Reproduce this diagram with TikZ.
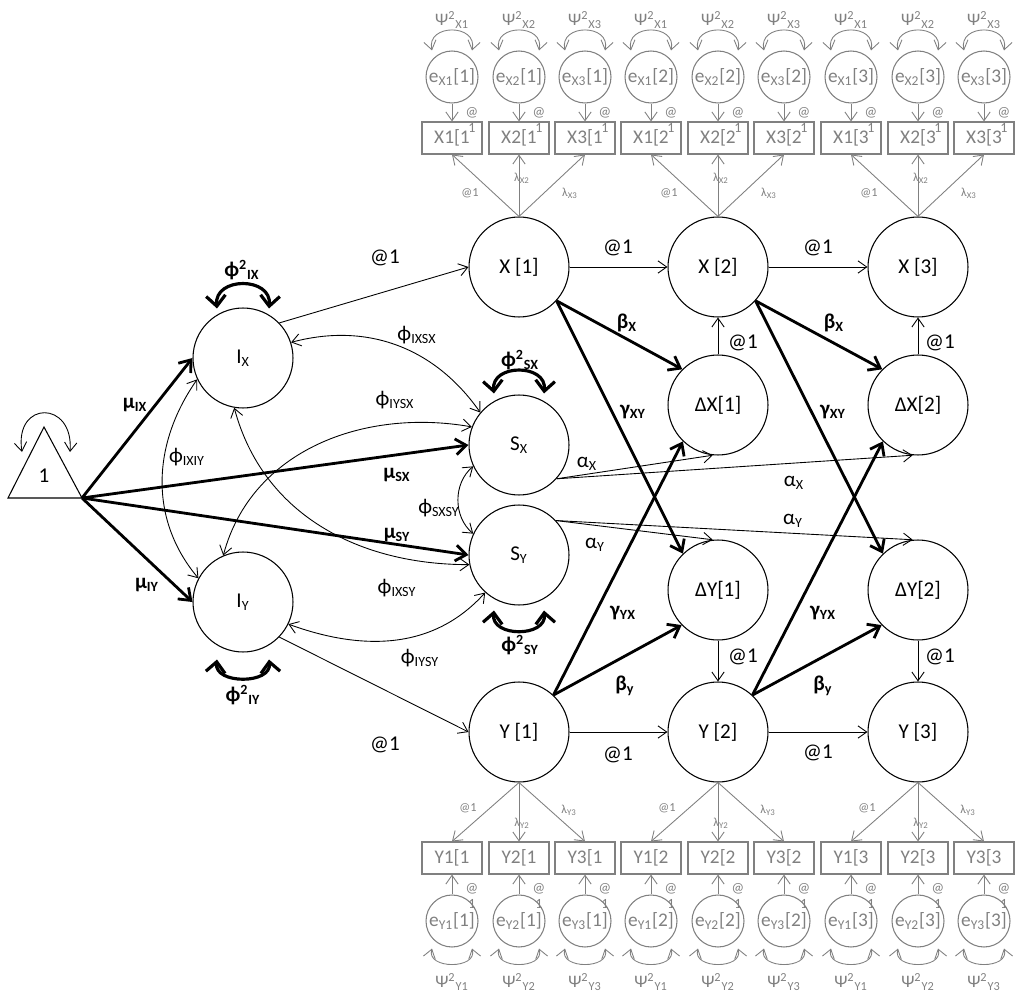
\documentclass[tikz,border=0pt]{standalone}
\usepackage{fontspec}
\setmainfont{Carlito}
\usepackage{tikz}
\usetikzlibrary{arrows.meta, calc}
\definecolor{gr}{RGB}{128,128,128}
\newcommand\mainfs{\fontsize{12}{14}\selectfont}
\newcommand\grfs{\fontsize{11}{13}\selectfont}
\newcommand\psifs{\fontsize{10}{12}\selectfont}
\newcommand\smfs{\fontsize{8}{9.5}\selectfont}
\newcommand\tinyfs{\fontsize{7}{8}\selectfont}

\begin{document}
\begin{tikzpicture}[x=0.02cm, y=0.02cm, font=\mainfs,
    latent/.style={draw, circle, minimum size=2cm, inner sep=0pt, line width=0.6pt},
    gbox/.style={draw=gr, text=gr, rectangle, minimum width=1.2cm, minimum height=0.64cm, inner sep=0pt, line width=0.6pt, font=\grfs},
    gerr/.style={draw=gr, text=gr, circle, minimum size=1.04cm, inner sep=0pt, line width=0.6pt, font=\grfs},
    arr/.style={-{Straight Barb[length=5pt,width=7pt]}, line width=0.5pt},
    fatarr/.style={-{Straight Barb[length=6pt,width=9pt]}, line width=1.6pt},
    cov/.style={{Straight Barb[length=5pt,width=7pt]}-{Straight Barb[length=5pt,width=7pt]}, line width=0.5pt},
    fatcov/.style={{Straight Barb[length=6pt,width=11pt]}-{Straight Barb[length=6pt,width=11pt]}, line width=1.8pt},
    garr/.style={arr, draw=gr},
    gcov/.style={cov, draw=gr},
    lab/.style={inner sep=0pt},
    bl/.style={inner sep=0pt, font=\mainfs\bfseries},
    glab/.style={inner sep=0pt, text=gr, font=\smfs, align=center},
    gsm/.style={inner sep=0pt, text=gr, font=\tinyfs}]
    \useasboundingbox (0,0) rectangle (1024,-1003);

    % constant
    \coordinate (tl) at (8,-498);
    \coordinate (apex) at (44,-427);
    \coordinate (tip) at (82,-498);
    \draw[line width=0.6pt] (tl) -- (apex) -- (tip) -- cycle;
    \node (one) at (44,-476) {1};
    \draw[cov] ($(apex)+(-22,-25)$) .. controls ($(apex)+(-30,27)$) and ($(apex)+(30,27)$) .. ($(apex)+(26,-25)$);

    % latent variables
    \node[latent] (IX) at (243,-358) {I\textsubscript{X}};
    \node[latent] (IY) at (243,-602) {I\textsubscript{Y}};
    \node[latent] (SX) at (519,-445) {S\textsubscript{X}};
    \node[latent] (SY) at (519,-555) {S\textsubscript{Y}};
    \node[latent] (X1) at (519,-267) {X [1]};
    \node[latent] (X2) at (718,-267) {X [2]};
    \node[latent] (X3) at (918,-267) {X [3]};
    \node[latent] (DX1) at (718,-405) {ΔX[1]};
    \node[latent] (DX2) at (918,-405) {ΔX[2]};
    \node[latent] (DY1) at (718,-590) {ΔY[1]};
    \node[latent] (DY2) at (918,-590) {ΔY[2]};
    \node[latent] (Y1) at (519,-732) {Y [1]};
    \node[latent] (Y2) at (718,-732) {Y [2]};
    \node[latent] (Y3) at (918,-732) {Y [3]};

    % means
    \draw[fatarr] (tip) -- (IX.west);
    \draw[fatarr] (tip) -- (IY.west);
    \draw[fatarr] (tip) -- (SX.west);
    \draw[fatarr] (tip) -- (SY.west);

    % covariances
    \draw[cov] (IX.205) to[out=235, in=130] (IY.152);
    \draw[cov] (IX.260) to[out=285, in=180] (SY.191);
    \draw[cov] (IY.113) to[out=75, in=170] (SX.159);
    \draw[cov] (IX.18) to[out=15, in=125] (SX.140);
    \draw[cov] (IY.334) to[out=-20, in=228] (SY.228);
    \draw[cov] (SX.205) to[out=220, in=140] (SY.155);

    % variances
    \draw[fatcov] ($(IX.north)+(-26,-1)$) .. controls ($(IX.north)+(-29,31)$) and ($(IX.north)+(29,31)$) .. ($(IX.north)+(26,-1)$);
    \draw[fatcov] ($(SX.north)+(-25,1)$) .. controls ($(SX.north)+(-28,31)$) and ($(SX.north)+(28,31)$) .. ($(SX.north)+(25,1)$);
    \draw[fatcov] ($(SY.south)+(-25,-5)$) .. controls ($(SY.south)+(-28,-32)$) and ($(SY.south)+(28,-32)$) .. ($(SY.south)+(25,-5)$);
    \draw[fatcov] ($(IY.south)+(-26,-7)$) .. controls ($(IY.south)+(-29,-32)$) and ($(IY.south)+(29,-32)$) .. ($(IY.south)+(26,-7)$);

    % fixed paths
    \draw[arr] (IX.44) -- (X1.west);
    \draw[arr] (IY.316) -- (Y1.west);
    \draw[arr] (X1) -- (X2);
    \draw[arr] (X2) -- (X3);
    \draw[arr] (DX1) -- (X2);
    \draw[arr] (DX2) -- (X3);
    \draw[arr] (DY1) -- (Y2);
    \draw[arr] (DY2) -- (Y3);
    \draw[arr] (Y1) -- (Y2);
    \draw[arr] (Y2) -- (Y3);

    % proportional and coupling
    \draw[fatarr] (X1.318) -- (DX1.135);
    \draw[fatarr] (X1.318) -- (DY1.134);
    \draw[fatarr] (X2.318) -- (DX2.135);
    \draw[fatarr] (X2.318) -- (DY2.134);
    \draw[fatarr] (Y1.47) -- (DX1.226);
    \draw[fatarr] (Y1.47) -- (DY1.224);
    \draw[fatarr] (Y2.47) -- (DX2.226);
    \draw[fatarr] (Y2.47) -- (DY2.224);

    % slopes
    \draw[arr] (SX.318) -- (DX1.264);
    \draw[arr] (SX.318) -- (DX2.264);
    \draw[arr] (SY.43) -- (DY1.96);
    \draw[arr] (SY.43) -- (DY2.96);

    % labels
    \node[lab] (aIX) at (385,-258) {@1};
    \node[lab] (aIY) at (385,-745) {@1};
    \node[lab] (aX12) at (618,-248) {@1};
    \node[lab] (aX23) at (818,-248) {@1};
    \node[lab] (aDX1) at (743,-343) {@1};
    \node[lab] (aDX2) at (940,-343) {@1};
    \node[lab] (aDY1) at (743,-657) {@1};
    \node[lab] (aDY2) at (940,-657) {@1};
    \node[lab] (aY12) at (618,-755) {@1};
    \node[lab] (aY23) at (818,-753) {@1};
    \node[bl] (muIX) at (135,-405) {μ\textsubscript{IX}};
    \node[bl] (muIY) at (147,-585) {μ\textsubscript{IY}};
    \node[bl] (muSX) at (397,-475) {μ\textsubscript{SX}};
    \node[bl] (muSY) at (397,-535) {μ\textsubscript{SY}};
    \node[bl] (vIX) at (242,-270) {ϕ\textsuperscript{2}\textsubscript{IX}};
    \node[bl] (vSX) at (520,-360) {ϕ\textsuperscript{2}\textsubscript{SX}};
    \node[bl] (vSY) at (520,-645) {ϕ\textsuperscript{2}\textsubscript{SY}};
    \node[bl] (vIY) at (243,-695) {ϕ\textsuperscript{2}\textsubscript{IY}};
    \node[lab] (cIXIY) at (187,-457) {ϕ\textsubscript{IXIY}};
    \node[lab] (cIXSX) at (417,-335) {ϕ\textsubscript{IXSX}};
    \node[lab] (cIYSX) at (395,-400) {ϕ\textsubscript{IYSX}};
    \node[lab] (cSXSY) at (439,-508) {ϕ\textsubscript{SXSY}};
    \node[lab] (cIXSY) at (397,-588) {ϕ\textsubscript{IXSY}};
    \node[lab] (cIYSY) at (420,-658) {ϕ\textsubscript{IYSY}};
    \node[lab] (alX1) at (587,-464) {α\textsubscript{X}};
    \node[lab] (alX2) at (794,-483) {α\textsubscript{X}};
    \node[lab] (alY1) at (595,-545) {α\textsubscript{Y}};
    \node[lab] (alY2) at (793,-521) {α\textsubscript{Y}};
    \node[bl] (bX1) at (627,-323) {β\textsubscript{X}};
    \node[bl] (bX2) at (834,-323) {β\textsubscript{X}};
    \node[bl] (gXY1) at (633,-412) {γ\textsubscript{XY}};
    \node[bl] (gXY2) at (833,-412) {γ\textsubscript{XY}};
    \node[bl] (gYX1) at (623,-613) {γ\textsubscript{YX}};
    \node[bl] (gYX2) at (823,-613) {γ\textsubscript{YX}};
    \node[bl] (bY1) at (625,-686) {β\textsubscript{y}};
    \node[bl] (bY2) at (823,-686) {β\textsubscript{y}};

    % measurement parts
    \foreach \t/\cx in {1/519, 2/718, 3/918} {
      \node[gsm] (lx1\t) at (\cx-49,-193) {@1};
      \node[gsm] (lx2\t) at (\cx+3,-178) {λ\textsubscript{X2}};
      \node[gsm] (lx3\t) at (\cx+51,-193) {λ\textsubscript{X3}};
      \node[gsm] (ly1\t) at (\cx-51,-808) {@1};
      \node[gsm] (ly2\t) at (\cx+3,-823) {λ\textsubscript{Y2}};
      \node[gsm] (ly3\t) at (\cx+50,-810) {λ\textsubscript{Y3}};
      \foreach \i/\dx in {1/-67, 2/0, 3/66} {
        \node[gbox] (xb\i\t) at (\cx+\dx,-138) {X\i[\t};
        \node[gerr] (xe\i\t) at (\cx+\dx,-77) {e\textsubscript{X\i}[\t]};
        \node[gbox] (yb\i\t) at (\cx+\dx,-858) {Y\i[\t};
        \node[gerr] (ye\i\t) at (\cx+\dx,-921) {e\textsubscript{Y\i}[\t]};
        \draw[garr] (X\t.north) -- (xb\i\t.south);
        \draw[garr] (Y\t.south) -- (yb\i\t.north);
        \draw[garr] (xe\i\t) -- (xb\i\t);
        \draw[garr] (ye\i\t) -- (yb\i\t);
        \node[glab] (xa\i\t) at (\cx+\dx+20,-120) {@\\1};
        \node[glab] (ya\i\t) at (\cx+\dx+20,-896) {@\\1};
        \draw[gcov] ($(xe\i\t.north)+(-20,0)$) .. controls ($(xe\i\t.north)+(-26,27)$) and ($(xe\i\t.north)+(26,27)$) .. ($(xe\i\t.north)+(20,0)$);
        \draw[gcov] ($(ye\i\t.south)+(-20,-1)$) .. controls ($(ye\i\t.south)+(-26,-22)$) and ($(ye\i\t.south)+(26,-22)$) .. ($(ye\i\t.south)+(20,-1)$);
        \node[text=gr, font=\psifs, inner sep=0pt] (px\i\t) at (\cx+\dx,-20) {Ψ\textsuperscript{2}\textsubscript{X\i}};
        \node[text=gr, font=\psifs, inner sep=0pt] (py\i\t) at (\cx+\dx,-982) {Ψ\textsuperscript{2}\textsubscript{Y\i}};
      }
    }
\end{tikzpicture}
\end{document}
